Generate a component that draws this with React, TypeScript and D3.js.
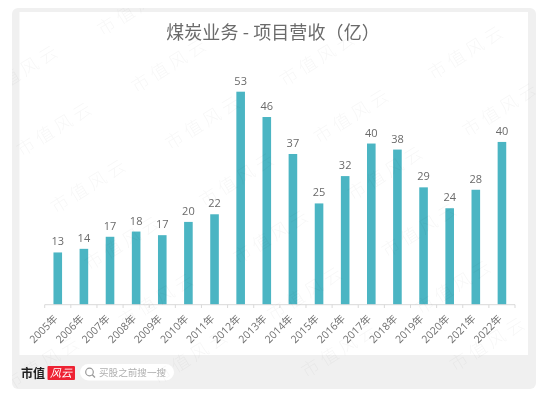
import React from "react";
import * as d3 from "d3";

const years = ["2005年","2006年","2007年","2008年","2009年","2010年","2011年","2012年","2013年","2014年","2015年","2016年","2017年","2018年","2019年","2020年","2021年","2022年"];
const values = [13, 13.9, 16.9, 18.2, 17.3, 20.6, 22.5, 53, 46.7, 37.5, 25.2, 32, 40.1, 38.6, 29.2, 24, 28.6, 40.5];
const labels = ["13","14","17","18","17","20","22","53","46","37","25","32","40","38","29","24","28","40"];
const title = "煤炭业务 - 项目营收（亿）";
const font = '"Noto Sans CJK SC", "Noto Sans", sans-serif';
const latin = '"Open Sans", "Noto Sans CJK SC", sans-serif';
const wmRows = [-2, -1, 0, 1, 2, 3, 4];
const wmCols = [-2, -1, 0, 1, 2, 3];

export default function App() {
  const x = d3.scaleBand<string>().domain(years).range([44.7, 515]);
  const y = d3.scaleLinear().domain([0, 53]).range([304.7, 91.7]);
  const barW = 8.6;
  const ticks = [...years.map((d) => x(d)!), 515];
  const marks = wmRows
    .flatMap((j) => wmCols.map((i) => [205 + i * 148.5 + j * 34, 123 - i * 6.5 + j * 57]))
    .filter(([mx, my]) => mx > 12 && mx < 536 && my > 8 && my < 389);
  return (
    <svg width={550} height={396} style={{ position: "absolute", left: 0, top: 0, filter: "blur(0.35px)" }} fontFamily={font}>
      <defs>
        <clipPath id="panel">
          <rect x={12} y={8} width={524} height={381} rx={6} />
        </clipPath>
      </defs>
      <rect width={550} height={396} fill="#fff" />
      <rect x={12} y={8} width={524} height={381} rx={6} fill="#f0f0f0" />
      <rect x={19.5} y={12} width={508.5} height={343} fill="#fff" />

      <text x={273} y={39} textAnchor="middle" fontSize={18} letterSpacing={0.1} fill="#6a6a6a">{title}</text>

      {years.map((d, i) => {
        const cx = x(d)! + x.bandwidth() / 2;
        return (
          <g key={d}>
            <rect x={cx - barW / 2} y={y(values[i])} width={barW} height={304.7 - y(values[i])} fill="#4bb5c3" />
            <text x={cx} y={y(values[i]) - 7} textAnchor="middle" fontFamily={latin} fontSize={11} fill="#6a6a6a">{labels[i]}</text>
            <text transform={`translate(${cx - 5.5},${313}) rotate(-45)`} textAnchor="end" dominantBaseline="hanging" fontFamily={latin} fontSize={10.5} fill="#707070">{d}</text>
          </g>
        );
      })}
      <line x1={44.7} x2={515} y1={304.7} y2={304.7} stroke="#d9d9d9" />
      {ticks.map((t, i) => (
        <line key={i} x1={t} x2={t} y1={304.7} y2={308} stroke="#d9d9d9" />
      ))}

      <text x={21} y={378} fontSize={12} fontWeight={700} fontFamily='"Noto Sans CJK SC", serif' fill="#222">市值</text>
      <rect x={47.5} y={366} width={27.5} height={14} rx={1} fill="#ee2233" />
      <text x={61} y={377} textAnchor="middle" fontSize={11} fontStyle="italic" fill="#fff">风云</text>
      <rect x={80} y={364} width={94} height={16.5} rx={8.2} fill="#fff" />
      <circle cx={89.5} cy={372} r={3.8} fill="none" stroke="#999" strokeWidth={1.2} />
      <line x1={92.3} y1={374.8} x2={95} y2={377.5} stroke="#999" strokeWidth={1.3} />
      <text x={99} y={376} fontSize={9.6} fill="#b0b0b0">买股之前搜一搜</text>

      <g clipPath="url(#panel)">
        {marks.map(([mx, my], i) => (
          <text key={i} transform={`translate(${mx},${my}) rotate(-32)`} textAnchor="middle" dominantBaseline="middle" fontSize={18} fontWeight={300} letterSpacing={4} fill="#000" fillOpacity={0.036}>市值风云</text>
        ))}
      </g>
    </svg>
  );
}
